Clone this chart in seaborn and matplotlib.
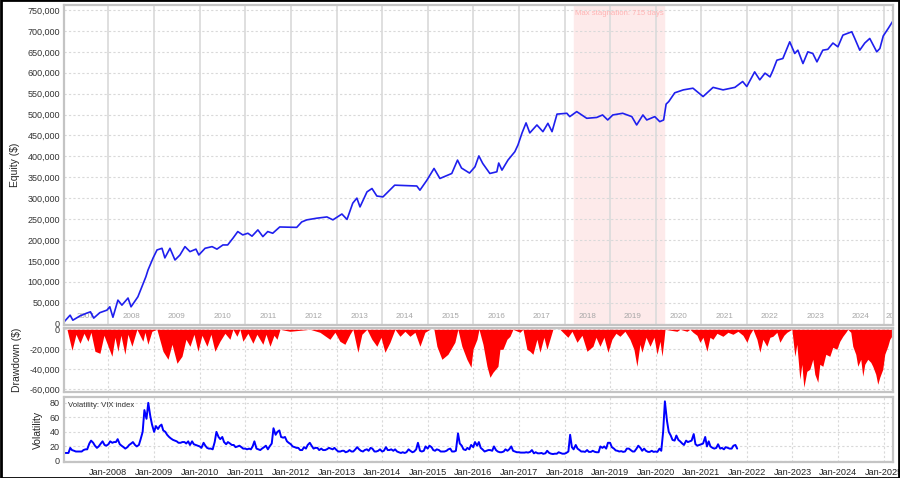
import matplotlib
matplotlib.use("Agg")
import matplotlib.pyplot as plt
import matplotlib.dates as mdates
import matplotlib.transforms as mtransforms
from matplotlib.ticker import FuncFormatter, MultipleLocator
from matplotlib.patches import Rectangle
import numpy as np
import pandas as pd
import seaborn as sns

# Equity curve (thousands of $)
equity_dates = [
    "2007-01-08", "2007-02-28", "2007-03-22", "2007-05-17", "2007-07-12", "2007-08-10", "2007-09-05", "2007-10-24", "2007-12-20",
    "2008-01-12", "2008-02-06", "2008-03-17", "2008-04-18", "2008-06-06", "2008-06-30", "2008-08-24", "2008-09-25", "2008-10-27", "2008-11-13", "2008-12-24",
    "2009-01-24", "2009-03-05", "2009-03-28", "2009-05-08", "2009-06-17", "2009-07-27", "2009-09-05", "2009-10-15", "2009-12-02", "2009-12-25",
    "2010-02-13", "2010-04-10", "2010-05-19", "2010-07-06", "2010-08-13", "2010-09-24", "2010-11-02", "2010-12-12",
    "2011-01-22", "2011-02-24", "2011-04-12", "2011-05-22", "2011-06-30", "2011-08-09", "2011-10-04",
    "2012-02-17", "2012-03-28", "2012-05-08", "2012-07-27", "2012-10-16", "2012-12-03",
    "2013-02-13", "2013-03-26", "2013-05-11", "2013-06-13", "2013-07-08", "2013-09-02", "2013-10-12", "2013-11-20",
    "2014-01-08", "2014-04-12", "2014-10-06", "2014-10-31", "2014-12-26",
    "2015-02-21", "2015-04-09", "2015-07-13", "2015-08-28", "2015-09-29", "2015-12-02",
    "2016-01-15", "2016-02-15", "2016-03-17", "2016-05-13", "2016-07-08", "2016-07-23", "2016-08-18", "2016-10-05", "2016-11-29", "2016-12-24",
    "2017-01-26", "2017-02-27", "2017-03-29", "2017-05-25", "2017-07-12", "2017-08-21", "2017-09-23", "2017-11-02",
    "2018-01-20", "2018-02-12", "2018-04-09", "2018-06-28", "2018-09-16", "2018-11-02", "2018-12-13",
    "2019-01-23", "2019-04-12", "2019-06-24", "2019-08-02", "2019-09-21", "2019-10-22", "2019-12-25",
    "2020-02-03", "2020-03-05", "2020-03-25", "2020-04-15", "2020-06-02", "2020-08-10", "2020-10-26",
    "2021-01-15", "2021-04-05", "2021-06-24", "2021-09-27", "2021-11-28", "2021-12-31",
    "2022-03-04", "2022-04-14", "2022-05-26", "2022-07-05", "2022-07-29", "2022-08-29", "2022-10-16", "2022-12-10",
    "2023-01-19", "2023-02-13", "2023-03-26", "2023-05-04", "2023-06-13", "2023-07-16", "2023-09-01", "2023-10-11", "2023-11-21", "2023-12-31",
    "2024-02-09", "2024-04-20", "2024-05-14", "2024-06-23", "2024-08-02", "2024-09-11", "2024-11-06", "2024-12-01", "2024-12-28",
    "2025-02-06", "2025-03-16",
]
equity_k = [
    3, 20, 8, 18, 25, 28, 13, 26, 32,
    40, 15, 56, 44, 61, 40, 64, 88, 112, 128, 157,
    176, 180, 157, 180, 152, 164, 184, 172, 178, 164,
    180, 184, 178, 188, 188, 204, 220, 212,
    216, 209, 224, 208, 220, 216, 231,
    230, 243, 248, 252, 255, 248,
    262, 249, 288, 300, 279, 315, 323, 305,
    303, 331, 329, 319, 343,
    371, 347, 359, 391, 372, 360,
    375, 401, 383, 359, 363, 384, 367, 391, 411, 427,
    456, 480, 456, 475, 459, 479, 459, 501,
    503, 495, 507, 491, 493, 499, 487,
    499, 503, 495, 475, 499, 487, 495,
    483, 487, 525, 531, 552, 559, 563,
    543, 565, 559, 565, 579, 567,
    602, 583, 599, 590, 606, 630, 634, 674,
    646, 654, 622, 650, 646, 626, 654, 656, 671, 662,
    690, 698, 682, 654, 671, 682, 650, 658, 688,
    706, 724,
]

# Drawdown (thousands of $)
dd_dates = [
    "2007-01-10", "2007-02-03", "2007-03-15", "2007-04-16", "2007-05-18", "2007-06-19", "2007-07-21", "2007-08-14", "2007-09-15", "2007-10-25", "2007-11-26",
    "2008-01-29", "2008-02-22", "2008-03-17", "2008-04-10", "2008-05-12", "2008-06-05", "2008-07-07", "2008-08-16", "2008-10-03", "2008-10-19", "2008-11-12", "2008-12-14",
    "2009-01-23", "2009-03-13", "2009-04-22", "2009-05-24", "2009-07-03", "2009-08-12", "2009-09-13", "2009-10-15", "2009-11-16", "2009-12-18",
    "2010-01-19", "2010-02-28", "2010-04-01", "2010-05-03", "2010-06-12", "2010-07-22", "2010-08-31", "2010-09-24", "2010-10-26", "2010-11-19", "2010-12-13",
    "2011-01-22", "2011-03-03", "2011-04-04", "2011-05-22", "2011-06-16", "2011-07-18", "2011-08-19", "2011-09-12", "2011-10-06", "2011-12-25",
    "2012-03-14", "2012-06-02", "2012-08-21", "2012-11-09", "2012-12-19",
    "2013-01-28", "2013-03-09", "2013-04-18", "2013-05-12", "2013-06-21", "2013-07-23", "2013-09-01", "2013-10-11", "2013-11-20", "2013-12-23",
    "2014-01-24", "2014-03-05", "2014-04-14", "2014-05-24", "2014-07-03", "2014-08-12", "2014-09-21", "2014-10-31", "2014-12-10",
    "2015-01-19", "2015-02-20", "2015-03-16", "2015-04-25", "2015-06-12", "2015-08-07", "2015-08-31", "2015-10-02", "2015-11-11", "2015-12-14", "2015-12-30",
    "2016-01-31", "2016-02-16", "2016-03-19", "2016-04-20", "2016-05-14", "2016-06-07", "2016-07-17", "2016-08-02", "2016-08-26", "2016-09-27", "2016-10-21", "2016-11-14",
    "2017-01-09", "2017-02-02", "2017-03-06", "2017-03-30", "2017-04-23", "2017-05-25", "2017-06-18", "2017-07-20", "2017-08-13", "2017-09-06", "2017-09-30", "2017-11-25", "2017-12-19",
    "2018-01-28", "2018-03-02", "2018-04-11", "2018-05-21", "2018-06-30", "2018-08-17", "2018-09-10", "2018-10-12", "2018-11-13", "2018-12-15",
    "2019-01-16", "2019-02-17", "2019-03-21", "2019-04-30", "2019-06-09", "2019-07-11", "2019-08-04", "2019-08-28", "2019-09-13", "2019-10-16", "2019-11-17", "2019-12-19",
    "2020-01-12", "2020-02-05", "2020-02-21", "2020-03-08", "2020-03-16", "2020-06-20", "2020-07-14", "2020-09-08", "2020-10-02", "2020-10-26", "2020-11-27", "2020-12-21",
    "2021-01-14", "2021-02-15", "2021-03-11", "2021-04-04", "2021-05-06", "2021-06-23", "2021-08-02", "2021-09-11", "2021-10-21", "2021-11-30",
    "2022-01-01", "2022-01-25", "2022-02-18", "2022-03-22", "2022-04-15", "2022-05-09", "2022-06-10", "2022-07-04", "2022-07-28", "2022-08-29", "2022-09-22", "2022-10-24", "2022-11-17", "2022-12-27",
    "2023-01-20", "2023-02-05", "2023-03-01", "2023-03-17", "2023-04-02", "2023-04-26", "2023-05-20", "2023-06-13", "2023-06-29", "2023-07-23", "2023-08-08", "2023-09-01", "2023-09-25", "2023-10-27", "2023-11-20", "2023-12-22",
    "2024-01-15", "2024-02-08", "2024-03-03", "2024-03-19", "2024-04-12", "2024-04-28", "2024-05-22", "2024-06-07", "2024-07-01", "2024-07-17", "2024-08-02", "2024-08-26", "2024-09-19", "2024-10-05", "2024-10-29", "2024-11-14", "2024-11-30", "2024-12-24",
    "2025-01-09", "2025-02-02", "2025-02-18", "2025-03-06",
]
drawdown_k = [
    0, 0, -21, -5, -14, -4, -12, -3, -22, -24, -6,
    -27, -8, -22, -6, -25, -5, -17, 0, -12, -3, -15, -2,
    0, -22, -30, -15, -34, -27, -10, -17, -5, -22,
    -6, -17, -5, -22, -12, -4, -10, 0, -7, 0, -12,
    -4, -14, -5, -15, -5, -17, -6, -10, 0, -2,
    -1, 0, -3, -10, -3,
    -12, -15, -5, 0, -23, -5, 0, -10, -17, -8,
    -23, -13, 0, -7, -2, -7, -3, -17, -3,
    0, 0, -17, -30, -25, -13, 0, -17, -30, -38, -20,
    -10, 0, -15, -37, -48, -43, -37, -20, -20, -10, -7, 0,
    -3, 0, -20, -22, -25, -10, -23, -8, -20, -10, 0, 0, -3,
    -8, -2, -13, -6, -22, -17, -8, -17, -8, -23,
    -10, -4, -7, -2, -10, -20, -37, -15, -23, -8, -17, -8,
    -25, -12, -27, -10, 0, -2, 0, -2, 0, -3, -6, -13,
    -8, -22, -8, -10, -4, -7, -3, -5, -2, -6,
    -13, -5, 0, -10, -23, -10, -17, -8, -7, -3, -13, -6, -3, 0,
    -27, -15, -50, -35, -58, -42, -40, -30, -45, -53, -35, -37, -25, -27, -18, -20,
    -12, -7, -3, 0, -3, -17, -25, -37, -30, -47, -35, -30, -33, -37, -45, -55, -48, -40,
    -25, -17, -10, -7,
]

# VIX index, sampled on the 1st and 15th of each month
vix_2007 = [11.5, 11, 11, 11, 18, 15, 14, 13, 13, 13, 13, 15, 16, 16, 24, 28, 25, 21, 18, 20, 24, 27, 22, 21]
vix_2008 = [23, 27, 25, 26, 26, 30, 23, 21, 19, 17, 19, 22, 24, 26, 22, 20, 22, 30, 40, 70, 58, 80, 62, 50]
vix_2009 = [40, 48, 44, 48, 50, 42, 40, 36, 33, 31, 29, 28, 27, 25, 25, 26, 26, 24, 27, 22, 27, 23, 22, 21]
vix_2010 = [20, 18, 25, 21, 18, 17, 17, 16, 26, 40, 33, 30, 33, 26, 23, 26, 24, 22, 22, 19, 20, 21, 19, 17]
vix_2011 = [17, 16, 17, 16, 20, 27, 17, 16, 15, 17, 19, 21, 16, 20, 24, 45, 36, 40, 42, 33, 32, 33, 27, 25]
vix_2012 = [23, 20, 19, 18, 18, 15, 15, 19, 17, 22, 25, 21, 17, 18, 18, 15, 17, 15, 15, 16, 18, 17, 16, 18]
vix_2013 = [15, 13, 13, 14, 14, 12, 13, 15, 13, 13, 16, 19, 16, 14, 13, 15, 16, 14, 18, 17, 13, 13, 14, 16]
vix_2014 = [13, 14, 19, 15, 15, 16, 14, 16, 13, 12, 11, 12, 11, 12, 16, 14, 12, 13, 16, 25, 14, 13, 14, 20]
vix_2015 = [17, 21, 19, 15, 14, 16, 15, 13, 13, 13, 14, 16, 17, 13, 13, 14, 38, 24, 21, 16, 15, 18, 16, 22]
vix_2016 = [19, 26, 21, 26, 18, 16, 13, 14, 15, 15, 14, 20, 15, 13, 12, 12, 13, 16, 14, 16, 20, 14, 13, 12]
vix_2017 = [12, 11.5, 11.5, 11.5, 12, 11.5, 12.5, 15, 10.5, 12, 10.5, 10.5, 11, 9.8, 10.5, 14, 11, 10, 9.5, 10, 10, 12, 11, 10]
vix_2018 = [10, 11, 13, 36, 19, 16, 22, 17, 15, 13, 13, 12.5, 15, 12.5, 12.5, 14, 12.5, 12, 12, 20, 18, 20, 17, 25]
vix_2019 = [25, 19, 17, 14.5, 14, 13, 13.5, 12.5, 13, 17, 17, 15, 13, 13, 17, 21, 18, 14, 17, 14, 12.5, 12.5, 14, 12.5]
vix_2020 = [13, 12.5, 17, 14, 40, 82, 55, 40, 35, 29, 28, 35, 29, 27, 24, 22, 28, 26, 27, 28, 37, 23, 21, 22]
vix_2021 = [23, 24, 33, 20, 27, 20, 18, 17, 18, 23, 17, 18, 16, 19, 18, 17, 17, 21, 22, 17]

stagnation_start = "2018-03-22"
stagnation_days = 715
year_labels = list(range(2007, 2026))

equity = pd.DataFrame({"date": pd.to_datetime(equity_dates), "equity": np.array(equity_k) * 1000})
drawdown = pd.DataFrame({"date": pd.to_datetime(dd_dates), "dd": np.array(drawdown_k) * 1000})
vix_values = (vix_2007 + vix_2008 + vix_2009 + vix_2010 + vix_2011 + vix_2012 + vix_2013
              + vix_2014 + vix_2015 + vix_2016 + vix_2017 + vix_2018 + vix_2019 + vix_2020 + vix_2021)
vix = pd.DataFrame({"date": pd.date_range("2007-01-01", periods=len(vix_values), freq="SMS"),
                    "vix": vix_values})

sns.set_style("white")
plt.rcParams["font.family"] = ["Liberation Sans", "DejaVu Sans"]

fig = plt.figure(figsize=(9, 4.78), dpi=100)
ax_eq = fig.add_axes([0.0711, 0.3201, 0.9211, 0.6694])
ax_dd = fig.add_axes([0.0711, 0.1799, 0.9211, 0.1339])
ax_vx = fig.add_axes([0.0711, 0.0335, 0.9211, 0.1360])

xmin, xmax = pd.Timestamp("2007-01-10"), pd.Timestamp("2025-03-16")
grid_col = "#d9d9d9"
money = FuncFormatter(lambda v, p: f"{v:,.0f}")

for ax in (ax_eq, ax_dd, ax_vx):
    ax.set_xlim(xmin, xmax)
    ax.xaxis.set_major_locator(mdates.YearLocator())
    for s in ax.spines.values():
        s.set_color("#c4c4c4")
        s.set_linewidth(1.6)
    ax.tick_params(axis="both", length=0, labelsize=6.5, colors="#333333", pad=3)
    ax.grid(True, axis="y", color=grid_col, linestyle=(0, (2, 2)), linewidth=0.8)
    ax.set_axisbelow(True)

# equity panel
ax_eq.axvspan(pd.Timestamp(stagnation_start),
              pd.Timestamp(stagnation_start) + pd.Timedelta(days=stagnation_days),
              color="#fdeaea", zorder=0)
ax_eq.grid(True, axis="x", color="#dcdcdc", linestyle="-", linewidth=1.3)
sns.lineplot(data=equity, x="date", y="equity", ax=ax_eq, color="#1f1fee", linewidth=1.2)
ax_eq.set_ylim(-3500, 762000)
ax_eq.yaxis.set_major_locator(MultipleLocator(50000))
ax_eq.yaxis.set_major_formatter(money)
ax_eq.set_xticklabels([])
ax_eq.set_xlabel("")
ax_eq.set_ylabel("Equity ($)", fontsize=7.5, labelpad=5)
trans = mtransforms.blended_transform_factory(ax_eq.transData, ax_eq.transAxes)
ax_eq.text(pd.Timestamp(stagnation_start) + pd.Timedelta(days=5), 0.975,
           "Max stagnation: 715 days", transform=trans,
           color="#ffb3b3", fontsize=5.6, va="center", ha="left")
for yr in year_labels:
    pos = pd.Timestamp(f"{yr}-07-02") if yr < 2025 else pd.Timestamp("2025-03-30")
    ax_eq.text(pos, 0.026, str(yr), transform=trans,
               color="#a6a6a6", fontsize=5.8, ha="center", va="center", clip_on=True, zorder=1)

# drawdown panel
ax_dd.grid(True, axis="x", color=grid_col, linestyle=(0, (2, 2)), linewidth=0.8)
ax_dd.fill_between(drawdown["date"], drawdown["dd"], 0, color="#ff0000", linewidth=0)
ax_dd.set_ylim(-62700, 1300)
ax_dd.yaxis.set_major_locator(MultipleLocator(20000))
ax_dd.yaxis.set_major_formatter(money)
ax_dd.set_xticklabels([])
ax_dd.set_ylabel("Drawdown ($)", fontsize=7.5, labelpad=5)

# volatility panel
ax_vx.grid(True, axis="x", color=grid_col, linestyle=(0, (2, 2)), linewidth=0.8)
sns.lineplot(data=vix, x="date", y="vix", ax=ax_vx, color="#0000ff", linewidth=1.4)
ax_vx.set_ylim(-1.4, 88)
ax_vx.yaxis.set_major_locator(MultipleLocator(20))
ax_vx.xaxis.set_major_formatter(mdates.DateFormatter("Jan-%Y"))
ax_vx.tick_params(axis="x", labelsize=6.6, colors="#222222", pad=4)
ax_vx.set_xlabel("")
ax_vx.set_ylabel("Volatility", fontsize=7.5, labelpad=5)
ax_vx.text(0.005, 0.87, "Volatility: VIX index", transform=ax_vx.transAxes,
           fontsize=5.6, color="#333333", va="center")

# outer frame
fig.patches.append(Rectangle((0.001, 0.001), 0.998, 0.998, transform=fig.transFigure,
                             fill=False, edgecolor="black", linewidth=2))

fig.savefig("out.png", dpi=100)
